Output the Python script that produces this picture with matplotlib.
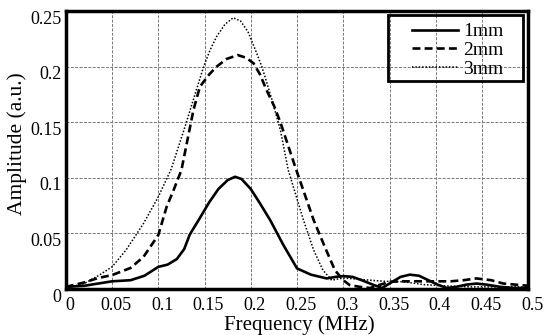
import matplotlib
matplotlib.use('Agg')
import matplotlib.pyplot as plt
import matplotlib.transforms as mtransforms
from matplotlib.patches import Rectangle

# frequency (MHz) and amplitudes
f1 = [0, 0.02, 0.035, 0.05, 0.07, 0.085, 0.1, 0.11, 0.12, 0.128, 0.134, 0.145, 0.155, 0.165,
      0.175, 0.183, 0.19, 0.2, 0.21, 0.221, 0.235, 0.25, 0.265, 0.282, 0.292, 0.30, 0.31,
      0.32, 0.332, 0.342, 0.352, 0.362, 0.372, 0.382, 0.392, 0.402, 0.412, 0.422, 0.433,
      0.444, 0.455, 0.47, 0.485, 0.5]
a1 = [0.002, 0.003, 0.005, 0.007, 0.008, 0.012, 0.02, 0.022, 0.027, 0.036, 0.049, 0.064,
      0.078, 0.090, 0.098, 0.101, 0.099, 0.090, 0.077, 0.062, 0.04, 0.0186, 0.013, 0.0096,
      0.011, 0.0117, 0.011, 0.008, 0.004, 0.001, 0.006, 0.011, 0.013, 0.012, 0.008, 0.004,
      0.001, 0.002, 0.004, 0.005, 0.004, 0.002, 0.001, 0.001]

f2 = [0, 0.02, 0.035, 0.05, 0.07, 0.084, 0.1, 0.109, 0.117, 0.125, 0.138, 0.145, 0.155,
      0.163, 0.174, 0.186, 0.195, 0.203, 0.21, 0.217, 0.225, 0.232, 0.24, 0.248, 0.258,
      0.268, 0.28, 0.291, 0.3, 0.307, 0.318, 0.329, 0.34, 0.351, 0.365, 0.383, 0.4, 0.416,
      0.43, 0.444, 0.46, 0.473, 0.5]
a2 = [0.002, 0.006, 0.010, 0.0126, 0.019, 0.029, 0.0486, 0.074, 0.09, 0.107, 0.161, 0.182,
      0.193, 0.20, 0.207, 0.2104, 0.208, 0.203, 0.193, 0.179, 0.165, 0.15, 0.13, 0.11, 0.086,
      0.062, 0.038, 0.017, 0.008, 0.0036, 0.002, 0.001, 0.004, 0.0066, 0.007, 0.007, 0.007,
      0.007, 0.008, 0.0096, 0.008, 0.005, 0.003]

f3 = [0, 0.02, 0.035, 0.05, 0.065, 0.084, 0.1, 0.114, 0.13, 0.14, 0.149, 0.156, 0.163,
      0.172, 0.181, 0.189, 0.197, 0.205, 0.212, 0.223, 0.232, 0.2405, 0.257, 0.268, 0.278,
      0.2875, 0.30, 0.315, 0.329, 0.345, 0.365, 0.387, 0.408, 0.437, 0.47, 0.5]
a3 = [0.001, 0.005, 0.012, 0.020, 0.035, 0.059, 0.083, 0.108, 0.149, 0.176, 0.20, 0.215,
      0.227, 0.238, 0.244, 0.241, 0.2314, 0.215, 0.20, 0.17, 0.143, 0.107, 0.062, 0.035,
      0.017, 0.008, 0.01, 0.009, 0.008, 0.007, 0.0066, 0.004, 0.003, 0.002, 0.002, 0.002]

xticks = [0, 0.05, 0.1, 0.15, 0.2, 0.25, 0.3, 0.35, 0.4, 0.45, 0.5]
xlabels = ['0', '0.05', '0.1', '0.15', '0.2', '0.25', '0.3', '0.35', '0.4', '0.45', '0.5']
yticks = [0, 0.05, 0.1, 0.15, 0.2, 0.25]
ylabels = ['0', '0.05', '0.1', '0.15', '0.2', '0.25']

plt.rcParams['font.family'] = ['Liberation Serif', 'DejaVu Serif']

fig = plt.figure(figsize=(5.44, 3.35), dpi=100)
ax = fig.add_axes([0.121, 0.137, 0.850, 0.830])

ax.plot(f1, a1, color='black', lw=1.9, ls='-', label='1mm')
ax.plot(f2, a2, color='black', lw=1.9, ls=(0, (3.0, 1.6)), label='2mm')
ax.plot(f3, a3, color='black', lw=1.1, ls=(0, (1, 1.2)), label='3mm')

ax.set_xlim(0, 0.5)
ax.set_ylim(0, 0.25)
ax.set_xticks(xticks)
ax.set_xticklabels(xlabels)
ax.set_yticks(yticks)
ax.set_yticklabels(ylabels)
ax.tick_params(length=0, labelsize=13, colors='black')
ax.tick_params(axis='x', pad=5.5)
ax.tick_params(axis='y', pad=3)
ax.grid(True, color='#777777', ls=(0, (3, 1.5)), lw=0.7)

# labels in the original sit a few pixels off their ticks
shx = mtransforms.ScaledTranslation(4 / 100, 0, fig.dpi_scale_trans)
for lab in ax.get_xticklabels():
    lab.set_transform(lab.get_transform() + shx)
shy = mtransforms.ScaledTranslation(0, -6 / 100, fig.dpi_scale_trans)
for lab in ax.get_yticklabels():
    lab.set_transform(lab.get_transform() + shy)

for s in ax.spines.values():
    s.set_linewidth(2.5)

ax.set_xlabel('Frequency (MHz)', fontsize=15)
ax.set_ylabel('Amplitude (a.u.)', fontsize=15.5)
ax.xaxis.set_label_coords(0.504, -0.093)
ax.yaxis.set_label_coords(-0.083, 0.523)

leg = ax.legend(loc='upper left', bbox_to_anchor=(0.748, 0.958), fontsize=14,
                frameon=False, handlelength=2.4, borderpad=0, labelspacing=0.05,
                handletextpad=0.25, borderaxespad=0)
ax.add_patch(Rectangle((0.697, 0.748), 0.292, 0.238, transform=ax.transAxes,
                       fill=False, edgecolor='black', lw=2, zorder=5, clip_on=False))

fig.savefig('out.png', dpi=100)
